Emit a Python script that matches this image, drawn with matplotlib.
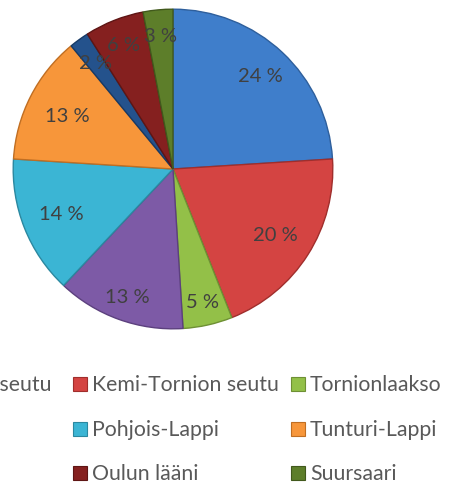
import matplotlib
matplotlib.use("Agg")
import numpy as np
import matplotlib.pyplot as plt
from matplotlib.patches import Rectangle

# ----------------------------------
# DATA
# ----------------------------------

regions = ["Rovaniemen seutu", "Kemi-Tornion seutu", "Tornionlaakso",
           "Itä-Lappi", "Pohjois-Lappi", "Tunturi-Lappi",
           "Muu Suomi", "Oulun lääni", "Suursaari"]
shares = [24, 20, 5, 13, 14, 13, 2, 6, 3]
colors = ["#3F7ECB", "#D44442", "#93C048", "#7D5AA6", "#3BB5D4",
          "#F7963A", "#24528C", "#85201F", "#5D7E2A"]
edges = ["#2E5F9C", "#A02E2C", "#6E9034", "#5C407E", "#2B88A0",
         "#C06E22", "#173A66", "#5E1514", "#41591C"]
# label distance from centre (fraction of radius), as placed in the original
label_dist = [0.80, 0.76, 0.85, 0.85, 0.75, 0.74, 0.82, 0.84, 0.84]

plt.rcParams['font.family'] = ['Lato', 'DejaVu Sans']

W, H = 450, 489
fig = plt.figure(figsize=(W / 100, H / 100), dpi=100)

# ----------------------------------
# PIE
# ----------------------------------

cx, cy, r = 173, 170, 163
ax = fig.add_axes([(cx - r) / W, 1 - (cy + r) / H, 2 * r / W, 2 * r / H])

wedges, texts, autotexts = ax.pie(
    shares,
    colors=colors,
    startangle=90,
    counterclock=False,
    autopct=lambda p: "%d %%" % round(p),
    pctdistance=0.8,
    wedgeprops=dict(linewidth=1.0),
    textprops=dict(color="#404040", fontsize=14.5),
)
for w, ec, t, d in zip(wedges, edges, autotexts, label_dist):
    w.set_edgecolor(ec)
    ang = np.deg2rad((w.theta1 + w.theta2) / 2)
    t.set_position((d * np.cos(ang), d * np.sin(ang)))
ax.set_xlim(-1.02, 1.02)
ax.set_ylim(-1.02, 1.02)
ax.set_aspect("equal")
ax.axis("off")

# ----------------------------------
# LEGEND (3 columns, first one runs off the left edge)
# ----------------------------------

row_y = [385, 430, 474]
col_x = [None, 73, 291]
box = 14
fs = 15.3
renderer = fig.canvas.get_renderer()

# first column: widest entry ends at x=52, so find its start
probe = fig.text(0, 0, regions[0], fontsize=fs)
first_w = probe.get_window_extent(renderer).width
probe.remove()
col_x[0] = 52 - first_w - 5 - box

for i, (name, col, ec) in enumerate(zip(regions, colors, edges)):
    row, c = divmod(i, 3)
    yf = 1 - row_y[row] / H
    mx = col_x[c]
    fig.text((mx + box + 5) / W, yf, name, ha="left", va="center",
             fontsize=fs, color="#595959")
    fig.patches.append(Rectangle((mx / W, yf - box / 2 / H), box / W, box / H,
                                 transform=fig.transFigure, facecolor=col,
                                 edgecolor=ec, linewidth=0.8))

fig.savefig("out.png", dpi=100)
